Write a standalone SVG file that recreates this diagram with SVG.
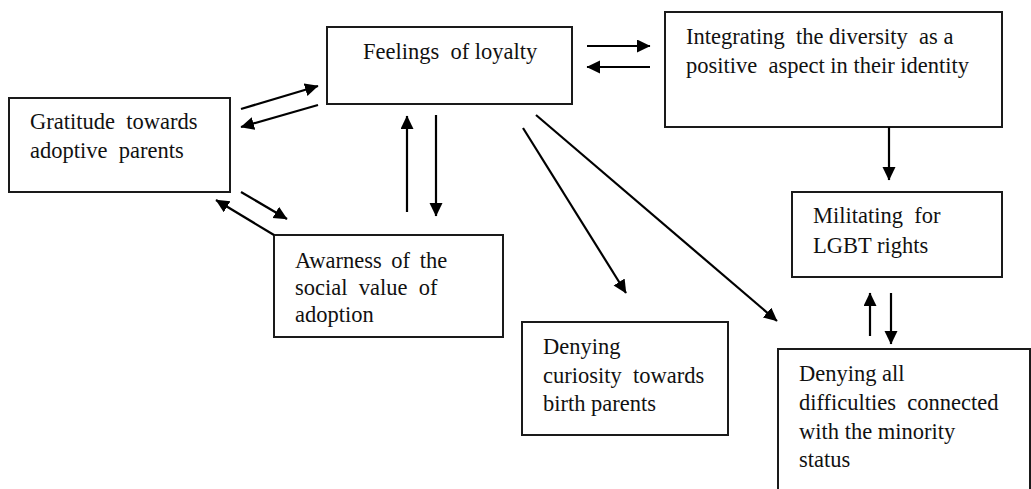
<svg xmlns="http://www.w3.org/2000/svg" width="1031" height="489" viewBox="0 0 1031 489">
  <style>
    .box { fill: #ffffff; stroke: #1a1a1a; stroke-width: 2; }
    .lbl { font-family: "Liberation Serif", "Times New Roman", serif; font-size: 22.5px; fill: #111111; white-space: pre; }
    .arr { stroke: #000000; stroke-width: 2.2; fill: none; marker-end: url(#head); }
  </style>
  <defs>
    <marker id="head" markerUnits="userSpaceOnUse" markerWidth="14" markerHeight="14" refX="13" refY="6.5" orient="auto">
      <path d="M0,0 L13.5,6.5 L0,13 z" fill="#000000"/>
    </marker>
  </defs>
  <rect width="1031" height="489" fill="#ffffff"/>

  <g id="nodes">
    <g id="gratitude">
      <rect class="box" x="9" y="98" width="221" height="94"/>
      <text class="lbl" xml:space="preserve"><tspan x="30" y="129">Gratitude  towards</tspan><tspan x="30" y="158">adoptive  parents</tspan></text>
    </g>
    <g id="loyalty">
      <rect class="box" x="327" y="27" width="245" height="77"/>
      <text class="lbl" xml:space="preserve"><tspan x="363" y="59">Feelings  of loyalty</tspan></text>
    </g>
    <g id="integrating">
      <rect class="box" x="665" y="12" width="337" height="115"/>
      <text class="lbl" xml:space="preserve"><tspan x="686" y="44">Integrating  the diversity  as a</tspan><tspan x="686" y="73">positive  aspect in their identity</tspan></text>
    </g>
    <g id="militating">
      <rect class="box" x="792" y="192" width="210" height="85"/>
      <text class="lbl" xml:space="preserve"><tspan x="813" y="223">Militating  for</tspan><tspan x="813" y="253">LGBT rights</tspan></text>
    </g>
    <g id="awareness">
      <rect class="box" x="274" y="235" width="229" height="102"/>
      <text class="lbl" xml:space="preserve"><tspan x="295" y="268" word-spacing="4">Awarness of the</tspan><tspan x="295" y="295">social  value  of</tspan><tspan x="295" y="322">adoption</tspan></text>
    </g>
    <g id="curiosity">
      <rect class="box" x="522" y="322" width="206" height="113"/>
      <text class="lbl" xml:space="preserve"><tspan x="543" y="354">Denying</tspan><tspan x="543" y="383">curiosity  towards</tspan><tspan x="543" y="411">birth parents</tspan></text>
    </g>
    <g id="denying-all">
      <rect class="box" x="778" y="349" width="252" height="150"/>
      <text class="lbl" xml:space="preserve"><tspan x="799" y="381">Denying all</tspan><tspan x="799" y="410">difficulties  connected</tspan><tspan x="799" y="439">with the minority</tspan><tspan x="799" y="467">status</tspan></text>
    </g>
  </g>

  <g id="connectors">
    <line class="arr" x1="241" y1="109" x2="318" y2="86"/>
    <line class="arr" x1="318" y1="105" x2="241" y2="127"/>
    <line class="arr" x1="241" y1="192" x2="287" y2="219"/>
    <line class="arr" x1="274" y1="235" x2="216" y2="200"/>
    <line class="arr" x1="587" y1="46" x2="650" y2="46"/>
    <line class="arr" x1="650" y1="67" x2="587" y2="67"/>
    <line class="arr" x1="407" y1="212" x2="407" y2="116"/>
    <line class="arr" x1="436" y1="115" x2="436" y2="216"/>
    <line class="arr" x1="523" y1="128" x2="626" y2="293"/>
    <line class="arr" x1="536" y1="115" x2="777" y2="321"/>
    <line class="arr" x1="889" y1="127" x2="889" y2="180"/>
    <line class="arr" x1="870" y1="336" x2="870" y2="293"/>
    <line class="arr" x1="891" y1="293" x2="891" y2="344"/>
  </g>
</svg>
